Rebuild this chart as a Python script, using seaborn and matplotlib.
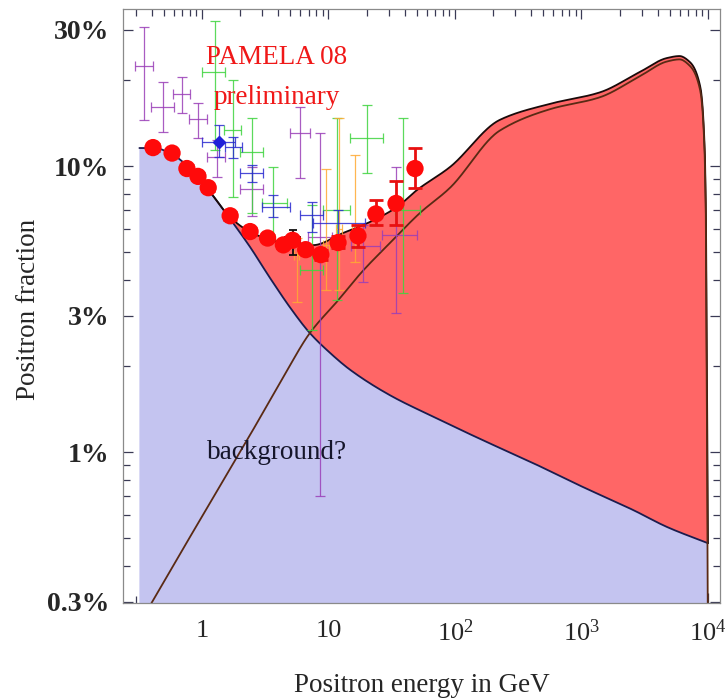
import matplotlib
matplotlib.use("Agg")
import numpy as np
import pandas as pd
import seaborn as sns
import matplotlib.pyplot as plt
from matplotlib.ticker import FixedLocator, FixedFormatter, NullFormatter

# ---------------------------------------------------------------
# Model curves: positron fraction in percent vs energy in GeV
# ---------------------------------------------------------------
bg_energy = [0.32, 0.42, 0.58, 0.78, 1.16, 1.67, 2.4, 3.45, 5.0, 7.1, 10.3, 14.8,
             30.6, 67, 166, 414, 1030, 2560, 4740, 10000]
bg_frac = [11.56, 11.56, 11.0, 9.92, 8.11, 6.53, 5.21, 4.06, 3.19, 2.61, 2.22, 1.94,
           1.58, 1.33, 1.10, 0.915, 0.754, 0.627, 0.547, 0.48]

sig_energy = [0.37, 0.67, 1.22, 2.27, 4.13, 7.14, 11.7, 18.7, 30.6, 52.8, 91, 226,
              563, 1400, 2890, 4740, 5950, 7190, 8700, 9530, 10000]
sig_frac = [0.28, 0.44, 0.69, 1.10, 1.74, 2.61, 3.36, 4.30, 5.38, 6.85, 8.38, 13.3,
            15.8, 17.4, 20.6, 23.2, 23.6, 22.4, 18.3, 9.4, 0.2]

tot_energy = [1.16, 1.665, 2.27, 3.15, 4.69, 7.54, 13.0, 21.2, 34.8, 50.0, 91.3, 226,
              563, 1400, 2890, 4740, 5950, 7190, 8700, 9530, 10000]
tot_frac = [8.11, 6.63, 5.97, 5.60, 5.38, 5.29, 5.83, 6.37, 7.19, 8.24, 9.92, 14.5,
            16.5, 18.1, 21.32, 23.86, 24.24, 23.1, 18.9, 9.9, 0.48]

# ---------------------------------------------------------------
# PAMELA 2008 (preliminary)
# ---------------------------------------------------------------
pam_energy = [0.41, 0.58, 0.76, 0.93, 1.12, 1.67, 2.4, 3.3, 4.4, 5.2, 6.6, 8.7,
              11.9, 17.1, 23.7, 34.2, 48.3]
pam_frac = [11.6, 11.1, 9.8, 9.2, 8.4, 6.7, 5.9, 5.6, 5.3, 5.5, 5.1, 4.9,
            5.4, 5.7, 6.8, 7.4, 9.8]
pam_low = [11.3, 10.8, 9.55, 8.95, 8.2, 6.5, 5.75, 5.45, 5.15, 5.35, 4.95, 4.7,
           5.15, 5.2, 6.2, 6.2, 8.4]
pam_high = [11.9, 11.4, 10.05, 9.45, 8.6, 6.9, 6.05, 5.75, 5.45, 5.65, 5.25, 5.1,
            5.7, 6.2, 7.6, 8.9, 11.6]

# ---------------------------------------------------------------
# Earlier measurements: energy, energy low/high, fraction, fraction low/high
# ---------------------------------------------------------------
purple_energy = [0.348, 0.492, 0.695, 0.93, 1.31, 2.48, 5.95, 8.57, 18.7, 34.2]
purple_e_low = [0.295, 0.395, 0.59, 0.79, 1.095, 2.0, 4.97, 6.88, 15.0, 26.4]
purple_e_high = [0.41, 0.60, 0.80, 1.095, 1.52, 3.03, 7.14, 10.65, 25.5, 50.4]
purple_frac = [22.4, 16.1, 17.9, 14.6, 10.75, 8.3, 13.0, 5.65, 5.25, 5.74]
purple_f_low = [14.5, 13.1, 15.3, 12.5, 9.15, 6.7, 9.1, 0.70, 3.93, 3.06]
purple_f_high = [30.6, 19.7, 20.5, 16.6, 12.3, 9.9, 16.1, 13.0, 6.2, 9.9]

green_energy = [1.27, 1.76, 2.48, 3.64, 7.41, 11.7, 20.2, 38.8]
green_e_low = [1.0, 1.49, 2.0, 2.98, 5.95, 9.0, 14.8, 33.6]
green_e_high = [1.52, 2.03, 3.03, 4.7, 9.05, 14.8, 27.0, 52.8]
green_frac = [21.3, 13.4, 11.2, 7.4, 4.33, 7.0, 12.5, 7.0]
green_f_low = [11.4, 7.8, 6.85, 5.5, 2.67, 3.4, 9.45, 3.6]
green_f_high = [32.1, 20.0, 14.7, 9.9, 7.3, 14.7, 16.3, 14.7]

blue_energy = [1.36, 1.76, 2.48, 3.64, 7.41, 11.9]
blue_e_low = [1.0, 1.52, 2.0, 2.98, 5.95, 7.54]
blue_e_high = [1.82, 2.07, 3.03, 4.95, 9.0, 19.4]
blue_frac = [12.1, 11.65, 9.45, 7.19, 6.74, 6.32]
blue_f_low = [10.75, 10.65, 8.8, 6.63, 5.88, 5.5]
blue_f_high = [13.9, 12.6, 10.1, 7.9, 7.48, 7.0]

orange_energy = [5.6, 9.54, 12.1, 16.2]
orange_e_low = [5.3, 9.0, 11.4, 15.3]
orange_e_high = [5.9, 10.1, 12.8, 17.2]
orange_frac = [4.9, 5.3, 6.0, 6.0]
orange_f_low = [3.35, 3.7, 3.7, 4.6]
orange_f_high = [5.6, 9.8, 14.7, 10.9]

black_energy = [5.25]
black_e_low = [4.5]
black_e_high = [5.95]
black_frac = [5.5]
black_f_low = [4.88]
black_f_high = [5.97]

x_tick_values = [1, 10, 100, 1000, 10000]
x_tick_labels = ["1", "10", r"$10^2$", r"$10^3$", r"$10^4$"]
y_tick_values = [0.3, 1, 3, 10, 30]
y_tick_labels = ["0.3%", "1%", "3%", "10%", "30%"]


def smooth_loglog(energy, frac, n=500):
    """Monotone cubic (Fritsch-Carlson) path through the points in log-log space."""
    x = np.log10(np.asarray(energy, float))
    y = np.log10(np.asarray(frac, float))
    h = np.diff(x)
    d = np.diff(y) / h
    m = np.zeros_like(y)
    m[0], m[-1] = d[0], d[-1]
    for k in range(1, len(y) - 1):
        if d[k - 1] * d[k] <= 0:
            m[k] = 0.0
        else:
            w1 = 2 * h[k] + h[k - 1]
            w2 = h[k] + 2 * h[k - 1]
            m[k] = (w1 + w2) / (w1 / d[k - 1] + w2 / d[k])
    xs = np.linspace(x[0], x[-1], n)
    idx = np.clip(np.searchsorted(x, xs) - 1, 0, len(h) - 1)
    t = (xs - x[idx]) / h[idx]
    h00 = 2 * t**3 - 3 * t**2 + 1
    h10 = t**3 - 2 * t**2 + t
    h01 = -2 * t**3 + 3 * t**2
    h11 = t**3 - t**2
    ys = (h00 * y[idx] + h10 * h[idx] * m[idx] + h01 * y[idx + 1]
          + h11 * h[idx] * m[idx + 1])
    return 10 ** xs, 10 ** ys


# ---------------------------------------------------------------
sns.set_theme(style="ticks")
plt.rcParams["font.family"] = ["Liberation Serif", "DejaVu Serif"]
plt.rcParams["mathtext.fontset"] = "custom"
plt.rcParams["mathtext.rm"] = "Liberation Serif"
plt.rcParams["mathtext.it"] = "Liberation Serif:italic"

fig = plt.figure(figsize=(7.26, 6.99), dpi=100)
ax = fig.add_axes([0.1694, 0.1373, 0.8223, 0.8498])
ax.set_xscale("log")
ax.set_yscale("log")
ax.set_xlim(0.2374, 12440)
ax.set_ylim(0.2965, 35.4)

bg_x, bg_y = smooth_loglog(bg_energy, bg_frac)
tot_x, tot_y = smooth_loglog(tot_energy, tot_frac)
sig_x, sig_y = smooth_loglog(sig_energy, sig_frac)

floor = 0.05
blue_fill = "#c4c4f0"
red_fill = "#ff6666"

# background region
ax.fill(np.r_[bg_x[0], bg_x, bg_x[-1]], np.r_[floor, bg_y, floor],
        color=blue_fill, lw=0, zorder=1)
# signal region between background and total
keep = bg_x >= tot_x[0]
ax.fill(np.r_[tot_x, bg_x[keep][::-1]], np.r_[tot_y, bg_y[keep][::-1]],
        color=red_fill, lw=0, zorder=1)

curves = pd.concat([
    pd.DataFrame({"energy": bg_x, "frac": bg_y, "curve": "background"}),
    pd.DataFrame({"energy": tot_x, "frac": tot_y, "curve": "total"}),
    pd.DataFrame({"energy": sig_x, "frac": sig_y, "curve": "signal"}),
])
sns.lineplot(data=curves, x="energy", y="frac", hue="curve", estimator=None,
             sort=False, palette={"background": "#1c1c4e", "total": "#1a0a0a",
                                  "signal": "#5a2a14"},
             linewidth=1.3, legend=False, ax=ax, zorder=3)


def crosses(energy, e_lo, e_hi, frac, f_lo, f_hi, color, lw=0.9, cap=3.5, alpha=0.85):
    e = np.asarray(energy); f = np.asarray(frac)
    xerr = [e - np.asarray(e_lo), np.asarray(e_hi) - e]
    yerr = [f - np.asarray(f_lo), np.asarray(f_hi) - f]
    ax.errorbar(e, f, xerr=xerr, yerr=yerr, fmt="none", ecolor=color,
                elinewidth=lw, capsize=cap, capthick=lw, alpha=alpha, zorder=4)


crosses(purple_energy, purple_e_low, purple_e_high, purple_frac, purple_f_low,
        purple_f_high, "#9a3fb8")
crosses(green_energy, green_e_low, green_e_high, green_frac, green_f_low,
        green_f_high, "#3fd43f")
crosses(orange_energy, orange_e_low, orange_e_high, orange_frac, orange_f_low,
        orange_f_high, "#ffaa33")
crosses(blue_energy, blue_e_low, blue_e_high, blue_frac, blue_f_low,
        blue_f_high, "#2a2ad0")
ax.plot(blue_energy[0], blue_frac[0], marker="D", ms=6, color="#2020d8",
        lw=0, zorder=5)

# PAMELA points
pam = pd.DataFrame({"energy": pam_energy, "frac": pam_frac})
ax.errorbar(pam_energy, pam_frac,
            yerr=[np.array(pam_frac) - np.array(pam_low),
                  np.array(pam_high) - np.array(pam_frac)],
            fmt="none", ecolor="#e81010", elinewidth=2, capsize=5, capthick=2,
            zorder=6)
sns.scatterplot(data=pam, x="energy", y="frac", s=155, color="#ff0a0a",
                edgecolor="none", linewidth=0, ax=ax, zorder=7)

crosses(black_energy, black_e_low, black_e_high, black_frac, black_f_low,
        black_f_high, "#111111", lw=1.3, cap=3, alpha=1.0)

# annotations
ax.text(3.92, 23.9, "PAMELA 08", color="#f01818", fontsize=19.5,
        ha="center", va="center", zorder=9)
ax.text(3.92, 17.4, "preliminary", color="#f01818", fontsize=19.5,
        ha="center", va="center", zorder=9)
ax.text(3.92, 1.0, "background?", color="#15152a", fontsize=19.5,
        ha="center", va="center", zorder=9)

# axes, ticks
ax.xaxis.set_major_locator(FixedLocator(x_tick_values))
ax.xaxis.set_major_formatter(FixedFormatter(x_tick_labels))
x_minor = [m * 10.0 ** d for d in range(-1, 4) for m in range(2, 10)]
ax.xaxis.set_minor_locator(FixedLocator(x_minor))
ax.xaxis.set_minor_formatter(NullFormatter())

ax.yaxis.set_major_locator(FixedLocator(y_tick_values))
ax.yaxis.set_major_formatter(FixedFormatter(y_tick_labels))
y_minor = [0.4, 0.5, 0.6, 0.7, 0.8, 0.9, 2, 4, 5, 6, 7, 8, 9, 20]
ax.yaxis.set_minor_locator(FixedLocator(y_minor))
ax.yaxis.set_minor_formatter(NullFormatter())

ax.tick_params(which="both", direction="in", top=True, right=True,
               color="#3a3a55", width=0.9)
ax.tick_params(which="major", length=7)
ax.tick_params(which="minor", length=5)
ax.tick_params(axis="x", which="major", labelsize=19, pad=12)
ax.tick_params(axis="y", which="major", labelsize=20, pad=10)
for lab in ax.get_yticklabels():
    lab.set_fontweight("bold")

for sp in ax.spines.values():
    sp.set_color("#8a8a8a")
    sp.set_linewidth(0.9)
    sp.set_zorder(10)

ax.set_xlabel("Positron energy in GeV", fontsize=19.5)
ax.set_ylabel("Positron fraction", fontsize=19.5)
ax.xaxis.set_label_coords(0.5, -0.118)
ax.yaxis.label.set_verticalalignment("center")
ax.yaxis.set_label_coords(-0.158, 0.495)

fig.savefig("out.png", dpi=100)
